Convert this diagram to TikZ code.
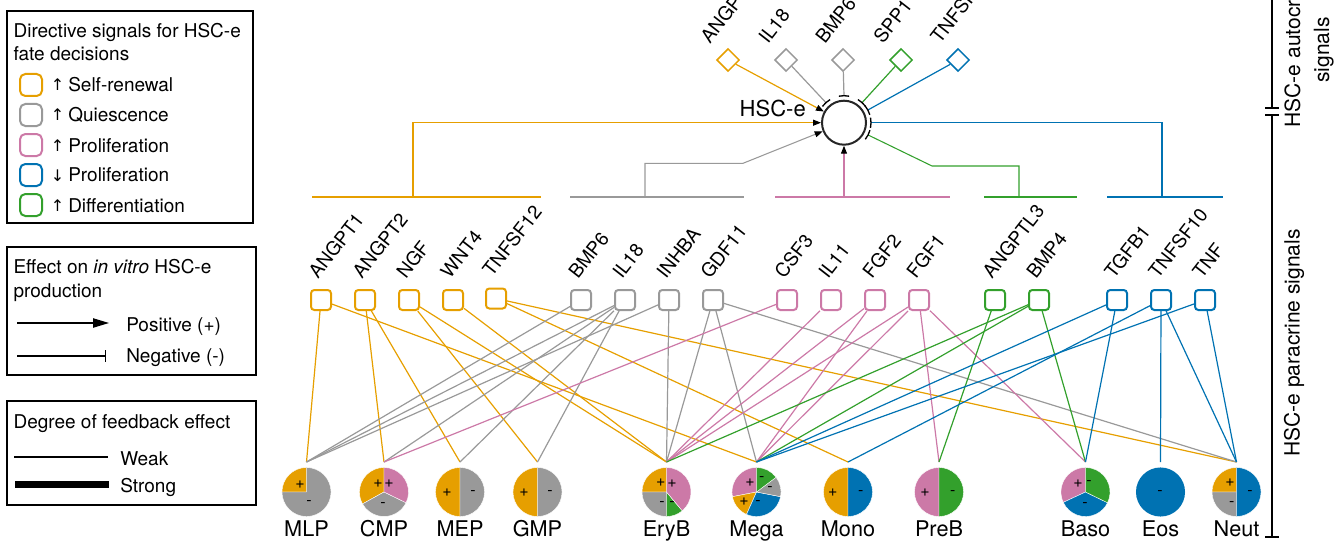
\documentclass[tikz,border=0pt]{standalone}
\usepackage{fontspec}
\setmainfont{TeX Gyre Heros}
\newfontfamily\symf{DejaVu Sans}
\usetikzlibrary{arrows.meta,calc,shapes.geometric}
\definecolor{cO}{HTML}{E69F00}
\definecolor{cG}{HTML}{999999}
\definecolor{cP}{HTML}{CC79A7}
\definecolor{cB}{HTML}{0072B2}
\definecolor{cE}{HTML}{33A02C}
\newcommand\pslice[4]{\fill[#4,draw=white,line width=0.3pt] (#1) -- ++(#2:18.4pt) arc[start angle=#2,end angle=#3,radius=18.4pt] -- cycle;}
\newcommand\tbarat[1]{\draw[line width=1pt,black] ($(hsc.center)+(#1-11:20.25pt)$) arc[start angle=#1-11,end angle=#1+11,radius=20.25pt];}
\begin{document}
\begin{tikzpicture}[x=0.75pt,y=-0.75pt,
  cw/.style={line width=0.9pt},
  sq/.style={rectangle,rounded corners=2.5pt,minimum size=15pt,line width=1.5pt,fill=white,inner sep=0pt},
  lsq/.style={rectangle,rounded corners=4pt,minimum size=16.5pt,line width=1.5pt,inner sep=0pt},
  dmd/.style={diamond,aspect=1,minimum size=17pt,line width=1.1pt,fill=white,inner sep=0pt},
  glab/.style={font=\fontsize{14.25}{17}\selectfont,rotate=52,anchor=base west,inner sep=0pt},
  lgt/.style={font=\fontsize{14.25}{17}\selectfont,anchor=base west,inner sep=0pt},
  plab/.style={font=\fontsize{16.25}{19}\selectfont,anchor=base,inner sep=0pt},
  sgn/.style={font=\fontsize{12}{12}\selectfont,inner sep=0pt},
  sidelab/.style={font=\fontsize{15.75}{21.75}\selectfont,rotate=90,inner sep=0pt},
  grpbar/.style={line width=1.6pt},
  stem/.style={line width=0.8pt},
  arr/.style={-{Triangle[length=6pt,width=4.5pt,color=black]}},
  lgbox/.style={line width=1pt,draw=black}
]
\useasboundingbox (0,0) rectangle (1335,542);
\clip (0,0) rectangle (1335,542);

% ---------- legends ----------
\draw[lgbox] (7,11) rectangle (253,223);
\node[lgt] (l1a) at (13.3,37.5) {Directive signals for HSC-e};
\node[lgt] (l1b) at (13.3,60.7) {fate decisions};
\node[lsq,draw=cO] (lq1) at (31,85) {};
\node[lsq,draw=cG] (lq2) at (31,115) {};
\node[lsq,draw=cP] (lq3) at (31,145) {};
\node[lsq,draw=cB] (lq4) at (31,175) {};
\node[lsq,draw=cE] (lq5) at (31,205) {};
\node[lgt,font=\symf\fontsize{12}{14}\selectfont] (la1) at (50.5,91) {↑};
\node[lgt,font=\symf\fontsize{12}{14}\selectfont] (la2) at (50.5,121) {↑};
\node[lgt,font=\symf\fontsize{12}{14}\selectfont] (la3) at (50.5,151) {↑};
\node[lgt,font=\symf\fontsize{12}{14}\selectfont] (la4) at (50.5,181) {↓};
\node[lgt,font=\symf\fontsize{12}{14}\selectfont] (la5) at (50.5,211) {↑};
\node[lgt] (lt1) at (68,91.7) {Self-renewal};
\node[lgt] (lt2) at (68,121.7) {Quiescence};
\node[lgt] (lt3) at (68,152) {Proliferation};
\node[lgt] (lt4) at (68,181.7) {Proliferation};
\node[lgt] (lt5) at (68,212) {Differentiation};

\draw[lgbox] (7,247) rectangle (256,375);
\node[lgt] (l2a) at (13.3,273.3) {Effect on \textit{in vitro} HSC-e};
\node[lgt] (l2b) at (13.3,297) {production};
\coordinate (pa0) at (17,323); \coordinate (pa1) at (109,323);
\draw[line width=0.9pt,-{Triangle[length=12pt,width=7pt]}] (pa0) -- (pa1);
\node[lgt] (l2c) at (126,331) {Positive (+)};
\coordinate (na0) at (17,356); \coordinate (na1) at (106,356);
\draw[line width=0.9pt,-{Bar[width=9pt,line width=0.9pt]}] (na0) -- (na1);
\node[lgt] (l2d) at (126,362.7) {Negative (-)};

\draw[lgbox] (7,401) rectangle (256,505);
\node[lgt] (l3a) at (13.3,428) {Degree of feedback effect};
\coordinate (wk0) at (14,457); \coordinate (wk1) at (108,457);
\draw[line width=0.8pt] (wk0) -- (wk1);
\node[lgt] (l3b) at (120,465.7) {Weak};
\coordinate (st0) at (15,484); \coordinate (st1) at (109,484);
\draw[line width=5.25pt] (st0) -- (st1);
\node[lgt] (l3c) at (120,492.3) {Strong};

% ---------- right brackets ----------
\draw[line width=1.5pt] (1272,0) -- (1272,108) (1265,108) -- (1279,108);
\draw[line width=1.5pt] (1265,115) -- (1279,115) (1272,115) -- (1272,537) (1265,537) -- (1279,537);
\node[sidelab] (para) at (1294,343) {HSC-e paracrine signals};
\node[sidelab,align=center] (auto) at (1309,50) {HSC-e autocrine\\signals};

% ---------- HSC-e ----------
\node[circle,draw=black!85,line width=1.5pt,minimum size=33pt,inner sep=0pt,fill=white] (hsc) at (844,122.7) {};
\node[font=\fontsize{16.5}{19}\selectfont,anchor=base east,inner sep=0pt] (hsclab) at (806,117) {HSC-e};

% autocrine diamonds
\node[dmd,draw=cO] (aANGPT1) at (728,60) {};
\node[dmd,draw=cG] (aIL18) at (786,60) {};
\node[dmd,draw=cG] (aBMP6) at (843,60) {};
\node[dmd,draw=cE] (aSPP1) at (901,60) {};
\node[dmd,draw=cB] (aTNFSF10) at (958,60) {};
\node[glab] (laANGPT1) at ($(aANGPT1)+(-18,-15)$) {ANGPT1};
\node[glab] (laIL18) at ($(aIL18)+(-18,-15)$) {IL18};
\node[glab] (laBMP6) at ($(aBMP6)+(-18,-15)$) {BMP6};
\node[glab] (laSPP1) at ($(aSPP1)+(-18,-15)$) {SPP1};
\node[glab] (laTNFSF10) at ($(aTNFSF10)+(-18,-15)$) {TNFSF10};

\coordinate (tIL18) at ($(hsc.center)+(132:20.25pt)$);
\coordinate (tBMP6) at ($(hsc.center)+(90:20.25pt)$);
\coordinate (tSPP1) at ($(hsc.center)+(48:20.25pt)$);
\coordinate (tTNF10) at ($(hsc.center)+(28:20.25pt)$);
\coordinate (tBlue) at ($(hsc.center)+(0:20.25pt)$);
\coordinate (tGreen) at ($(hsc.center)+(-27:20.25pt)$);

\draw[cO,cw,arr] (aANGPT1) -- (hsc.151);
\draw[cG,cw] (aIL18) -- (tIL18); \tbarat{132}
\draw[cG,cw] (aBMP6) -- (tBMP6); \tbarat{90}
\draw[cE,cw] (aSPP1) -- (tSPP1); \tbarat{48}
\draw[cB,cw] (aTNFSF10) -- (tTNF10); \tbarat{28}

% ---------- group bars ----------
\coordinate (oL) at (312,197); \coordinate (oR) at (541,197); \coordinate (oS) at (413,197);
\coordinate (gL) at (570,197); \coordinate (gR) at (744,197); \coordinate (gS) at (645,197);
\coordinate (pL) at (775,197); \coordinate (pR) at (950,197); \coordinate (pS) at (844,197);
\coordinate (eL) at (984,197); \coordinate (eR) at (1077,197); \coordinate (eS) at (1019,197);
\coordinate (bL) at (1107,197); \coordinate (bR) at (1223,197); \coordinate (bS) at (1162,197);
\draw[cO,grpbar] (oL) -- (oR);
\draw[cG,grpbar] (gL) -- (gR);
\draw[cP,grpbar] (pL) -- (pR);
\draw[cE,grpbar] (eL) -- (eR);
\draw[cB,grpbar] (bL) -- (bR);
\coordinate (gK) at (743,163.3);
\coordinate (eK) at (932,166);
\draw[cO,stem,arr] (oS) |- (hsc.180);
\draw[cG,stem,arr] (gS) |- (gK) -- (hsc.202);
\draw[cP,stem,arr] (pS) -- (hsc.south);
\draw[cE,stem] (eS) |- (eK) -- (tGreen); \tbarat{-27}
\draw[cB,stem] (bS) |- (tBlue); \tbarat{0}

% ---------- paracrine squares ----------
\foreach \n/\x/\c in {ANGPT1/321/cO,ANGPT2/365/cO,NGF/409/cO,WNT4/453/cO,
  BMP6/581/cG,IL18/625/cG,INHBA/669/cG,GDF11/713/cG,
  CSF3/787/cP,IL11/831/cP,FGF2/875/cP,FGF1/919/cP,
  ANGPTL3/995/cE,BMP4/1039/cE,TGFB1/1117/cB,TNFSF10/1161/cB,TNF/1205/cB}{
  \node[sq,draw=\c] (s\n) at (\x,300) {};
  \node[glab] (l\n) at ($(s\n)+(-3,-20)$) {\n};
}
\node[sq,draw=cO] (sTNFSF12) at (496,298.5) {};
\node[glab] (lTNFSF12) at ($(sTNFSF12)+(-4,-21)$) {TNFSF12};

% ---------- pies ----------
\foreach \n/\x in {MLP/306.5,CMP/384,MEP/460,GMP/537.5,EryB/666.5,Mega/756.5,Mono/848,PreB/939,Baso/1085.5,Eos/1160.5,Neut/1236.5}{
  \coordinate (c\n) at (\x,492);
  \coordinate (t\n) at (\x,462);
  \node[plab] (n\n) at (\x,536) {\n};
}
\pslice{cMLP}{90}{180}{cO}\pslice{cMLP}{180}{450}{cG}
\pslice{cCMP}{90}{209}{cO}\pslice{cCMP}{209}{334}{cG}\pslice{cCMP}{-26}{90}{cP}
\pslice{cMEP}{90}{270}{cO}\pslice{cMEP}{270}{450}{cG}
\pslice{cGMP}{90}{270}{cO}\pslice{cGMP}{270}{450}{cG}
\pslice{cEryB}{90}{180}{cO}\pslice{cEryB}{180}{270}{cG}\pslice{cEryB}{270}{310}{cE}\pslice{cEryB}{310}{450}{cP}
\pslice{cMega}{90}{191}{cP}\pslice{cMega}{191}{246}{cO}\pslice{cMega}{246}{349}{cB}\pslice{cMega}{349}{397}{cG}\pslice{cMega}{37}{90}{cE}
\pslice{cMono}{90}{270}{cO}\pslice{cMono}{270}{450}{cB}
\pslice{cPreB}{90}{270}{cP}\pslice{cPreB}{270}{450}{cE}
\pslice{cBaso}{90}{205}{cP}\pslice{cBaso}{205}{334}{cB}\pslice{cBaso}{334}{450}{cE}
\fill[cB] (cEos) circle[radius=18.4pt];
\pslice{cNeut}{90}{180}{cO}\pslice{cNeut}{180}{270}{cG}\pslice{cNeut}{270}{450}{cB}

\foreach \x/\y/\s [count=\i] in {300/485/+,309/503/-,378/484/+,389/484/+,383/505/-,447/493/+,473/493/-,524/493/+,550/493/-,
  660.7/483/+,672/484/+,662/504/-,672/504/-,750/483/+,761.7/479/-,770/489/-,744/502/+,758/503/-,
  832.7/493/+,860.7/493/-,925/493/+,952.7/493/-,1078/484/+,1089/483/-,1085/505/-,1160/493/-,1230/483/+,1231.7/504/-,1250/493/-}{
  \node[sgn] (sg\i) at (\x,\y) {\s};
}

% ---------- paracrine connectors ----------
\foreach \s/\p in {ANGPT1/MLP,ANGPT1/Mega,ANGPT2/CMP,ANGPT2/MEP,NGF/GMP,NGF/EryB,WNT4/EryB,TNFSF12/Mono,TNFSF12/Neut}
  \draw[cO,cw] (s\s) -- (t\p);
\foreach \s/\p in {BMP6/MLP,IL18/MLP,IL18/CMP,IL18/MEP,IL18/GMP,INHBA/MLP,INHBA/EryB,GDF11/EryB,GDF11/Mega,GDF11/Neut}
  \draw[cG,cw] (s\s) -- (t\p);
\foreach \s/\p in {CSF3/CMP,IL11/EryB,FGF2/EryB,FGF2/Mega,FGF1/EryB,FGF1/Mega,FGF1/PreB,FGF1/Baso}
  \draw[cP,cw] (s\s) -- (t\p);
\foreach \s/\p in {ANGPTL3/PreB,BMP4/EryB,BMP4/Mega,BMP4/Baso}
  \draw[cE,cw] (s\s) -- (t\p);
\foreach \s/\p in {TGFB1/Mega,TGFB1/Baso,TNFSF10/Mono,TNFSF10/Eos,TNFSF10/Neut,TNF/Mega,TNF/Neut}
  \draw[cB,cw] (s\s) -- (t\p);
\end{tikzpicture}
\end{document}
